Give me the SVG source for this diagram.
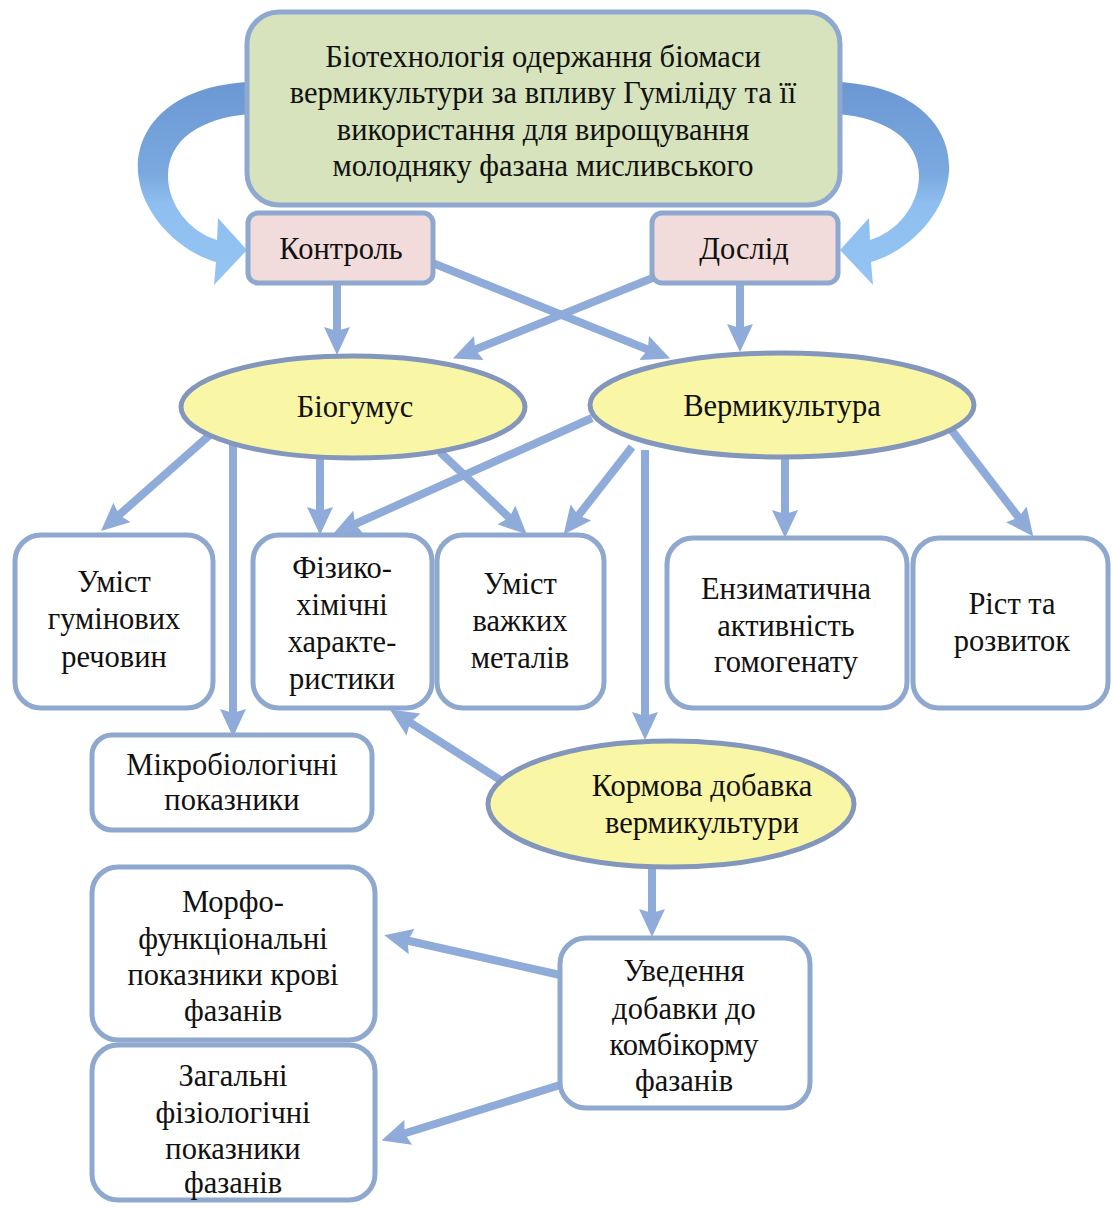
<svg xmlns="http://www.w3.org/2000/svg" width="1112" height="1209" viewBox="0 0 1112 1209">
<style>
text{font-family:"Liberation Serif","Times New Roman",serif;font-size:30.5px;fill:#111;text-anchor:middle}
.box{fill:#ffffff;stroke:#8ea8cf;stroke-width:5}
.ell{fill:#f9f6a6;stroke:#8396bb;stroke-width:5}
.con{stroke:#8eabd9;stroke-width:8;fill:none;marker-end:url(#ah)}
</style>
<defs>
<marker id="ah" markerUnits="userSpaceOnUse" markerWidth="28" markerHeight="26" refX="16" refY="13" orient="auto" viewBox="0 0 28 26">
<path d="M0,0 L28,13 L0,26 L4,13 Z" fill="#8eabd9"/>
</marker>
<linearGradient id="cg" x1="0" y1="0" x2="0" y2="1">
<stop offset="0" stop-color="#6b98d3"/>
<stop offset="0.45" stop-color="#7aa8df"/>
<stop offset="0.6" stop-color="#8ebff0"/>
<stop offset="1" stop-color="#93c4f3"/>
</linearGradient>
</defs>
<rect width="1112" height="1209" fill="#ffffff"/>

<g id="curved-arrows">
<path d="M 250 82 C 175 85, 135 125, 138 172 C 141 215, 180 252, 216 262 L 214 285 L 247 250 L 218 218 L 217 240 C 190 232, 168 205, 168 176 C 168 140, 200 118, 250 114 Z" fill="url(#cg)"/>
<path d="M 837 82 C 912 85, 952 125, 949 172 C 946 215, 907 252, 871 262 L 873 285 L 840 250 L 869 218 L 870 240 C 897 232, 919 205, 919 176 C 919 140, 887 118, 837 114 Z" fill="url(#cg)"/>
</g>

<g id="connectors">
<line class="con" x1="337" y1="285" x2="337" y2="343"/>
<line class="con" x1="430" y1="262" x2="659" y2="354"/>
<line class="con" x1="660" y1="275" x2="464" y2="354"/>
<line class="con" x1="740" y1="285" x2="740" y2="340"/>
<line class="con" x1="212" y1="433" x2="110" y2="523"/>
<line class="con" x1="233" y1="440" x2="233" y2="725"/>
<line class="con" x1="320" y1="458" x2="320" y2="523"/>
<line class="con" x1="440" y1="452" x2="518" y2="526"/>
<line class="con" x1="592" y1="418" x2="344" y2="529"/>
<line class="con" x1="632" y1="447" x2="571" y2="525"/>
<line class="con" x1="645" y1="450" x2="645" y2="728"/>
<line class="con" x1="785" y1="458" x2="785" y2="526"/>
<line class="con" x1="950" y1="428" x2="1026" y2="527"/>
<line class="con" x1="508" y1="785" x2="400" y2="716"/>
<line class="con" x1="652" y1="868" x2="652" y2="925"/>
<line class="con" x1="560" y1="975" x2="396" y2="938"/>
<line class="con" x1="560" y1="1085" x2="393" y2="1137"/>
</g>

<g id="top">
<rect x="247" y="12" width="593" height="193" rx="32" fill="#d6e3bc" stroke="#8ea8cf" stroke-width="5"/>
<text x="543" y="67">Біотехнологія одержання біомаси</text>
<text x="543" y="103">вермикультури за впливу Гуміліду  та її</text>
<text x="543" y="140">використання для вирощування</text>
<text x="543" y="176">молодняку фазана мисливського</text>
</g>
<g id="kontrol">
<rect x="248" y="213" width="185" height="70" rx="10" fill="#f2dcdb" stroke="#8ea8cf" stroke-width="5"/>
<text x="341" y="259">Контроль</text>
</g>
<g id="doslid">
<rect x="652" y="213" width="186" height="70" rx="10" fill="#f2dcdb" stroke="#8ea8cf" stroke-width="5"/>
<text x="744" y="259">Дослід</text>
</g>
<g id="biohumus">
<ellipse class="ell" cx="353" cy="407" rx="172" ry="51"/>
<text x="355" y="417">Біогумус</text>
</g>
<g id="vermikultura">
<ellipse class="ell" cx="782" cy="405" rx="192" ry="52"/>
<text x="782" y="416">Вермикультура</text>
</g>
<g id="humin">
<rect class="box" x="15" y="535" width="198" height="173" rx="26"/>
<text x="114" y="592">Уміст</text>
<text x="114" y="629">гумінових</text>
<text x="114" y="667">речовин</text>
</g>
<g id="fiz">
<rect class="box" x="253" y="535" width="179" height="173" rx="26"/>
<text x="342" y="578">Фізико-</text>
<text x="342" y="615">хімічні</text>
<text x="342" y="652">характе-</text>
<text x="342" y="689">ристики</text>
</g>
<g id="metals">
<rect class="box" x="437" y="535" width="167" height="173" rx="26"/>
<text x="520" y="594">Уміст</text>
<text x="520" y="631">важких</text>
<text x="520" y="668">металів</text>
</g>
<g id="enzym">
<rect class="box" x="667" y="538" width="240" height="170" rx="26"/>
<text x="786" y="599">Ензиматична</text>
<text x="786" y="636">активність</text>
<text x="786" y="672">гомогенату</text>
</g>
<g id="rist">
<rect class="box" x="913" y="538" width="195" height="170" rx="26"/>
<text x="1012" y="614">Ріст та</text>
<text x="1012" y="651">розвиток</text>
</g>
<g id="mikro">
<rect class="box" x="92" y="735" width="280" height="95" rx="20"/>
<text x="232" y="775">Мікробіологічні</text>
<text x="232" y="810">показники</text>
</g>
<g id="kormova">
<ellipse class="ell" cx="671" cy="804" rx="183" ry="63"/>
<text x="702" y="796">Кормова добавка</text>
<text x="702" y="833">вермикультури</text>
</g>
<g id="morfo">
<rect class="box" x="92" y="867" width="283" height="173" rx="26"/>
<text x="233" y="912">Морфо-</text>
<text x="233" y="949">функціональні</text>
<text x="233" y="985">показники крові</text>
<text x="233" y="1021">фазанів</text>
</g>
<g id="zahalni">
<rect class="box" x="92" y="1045" width="283" height="155" rx="26"/>
<text x="233" y="1086">Загальні</text>
<text x="233" y="1123">фізіологічні</text>
<text x="233" y="1159">показники</text>
<text x="233" y="1193">фазанів</text>
</g>
<g id="vvedennia">
<rect class="box" x="560" y="938" width="250" height="170" rx="26"/>
<text x="684" y="981">Уведення</text>
<text x="684" y="1019">добавки до</text>
<text x="684" y="1055">комбікорму</text>
<text x="684" y="1091">фазанів</text>
</g>
</svg>
